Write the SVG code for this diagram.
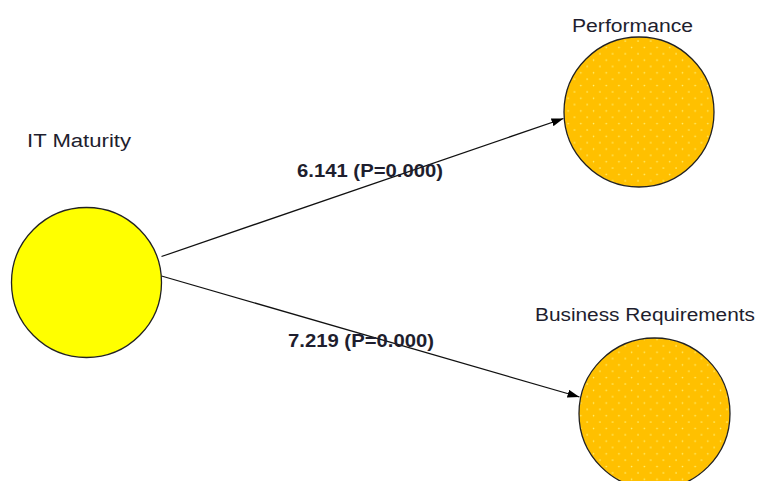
<svg xmlns="http://www.w3.org/2000/svg" width="758" height="481" viewBox="0 0 758 481">
<defs>
<pattern id="dots" width="12.7" height="12.7" patternUnits="userSpaceOnUse">
<rect width="12.7" height="12.7" fill="#FFC000"/>
<circle cx="3" cy="3" r="0.8" fill="#FFF27A"/>
<circle cx="9.35" cy="9.35" r="0.8" fill="#FFF27A"/>
</pattern>
<marker id="arr" viewBox="0 0 12 8" refX="12" refY="4" markerWidth="12" markerHeight="8" markerUnits="userSpaceOnUse" orient="auto">
<path d="M0,0 L12,4 L0,8 Z" fill="#000"/>
</marker>
<style>
.node{stroke:#222;stroke-width:1.3}
.lbl{font-family:"Liberation Sans",Arial,sans-serif;font-size:18px;fill:#1e1e2e}
.edge{stroke:#111;stroke-width:1.3;fill:none}
.elbl{font-family:"Liberation Sans",Arial,sans-serif;font-size:18px;font-weight:bold;fill:#1e1e2e}
</style>
</defs>
<rect width="758" height="481" fill="#fff"/>
<g id="connectors">
<line class="edge" x1="161.5" y1="256.5" x2="563.5" y2="118.5" marker-end="url(#arr)"/>
<line class="edge" x1="161.5" y1="276" x2="579.5" y2="397" marker-end="url(#arr)"/>
<text class="elbl" x="297" y="177" textLength="146" lengthAdjust="spacingAndGlyphs">6.141 (P=0.000)</text>
<text class="elbl" x="288" y="347" textLength="146" lengthAdjust="spacingAndGlyphs">7.219 (P=0.000)</text>
</g>
<g id="it-maturity">
<circle class="node" cx="86.5" cy="282.5" r="75" fill="#FFFF00"/>
<text class="lbl" x="27" y="147" textLength="104" lengthAdjust="spacingAndGlyphs">IT Maturity</text>
</g>
<g id="performance">
<circle class="node" cx="639" cy="112" r="75" fill="url(#dots)"/>
<text class="lbl" x="572" y="32" textLength="121" lengthAdjust="spacingAndGlyphs">Performance</text>
</g>
<g id="business-requirements">
<circle class="node" cx="654.5" cy="413.5" r="75.5" fill="url(#dots)"/>
<text class="lbl" x="535" y="321" textLength="220" lengthAdjust="spacingAndGlyphs">Business Requirements</text>
</g>
</svg>
